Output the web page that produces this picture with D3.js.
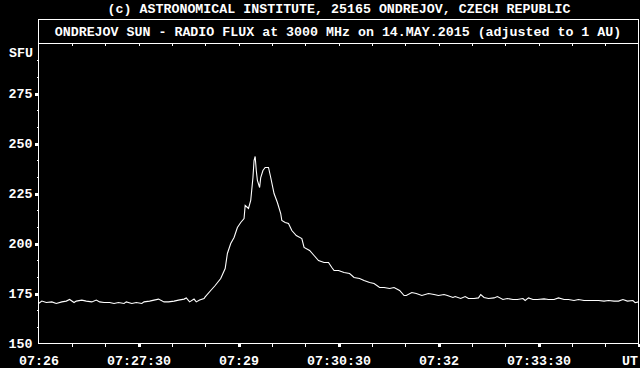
<!DOCTYPE html>
<html>
<head>
<meta charset="utf-8">
<script src="https://cdn.jsdelivr.net/npm/d3@7"></script>
<style>
  body { margin: 0; background: #000; }
  svg { display: block; }
</style>
</head>
<body>
<div id="chart"></div>
<script>
// seconds after 07:26:00 UT
var secs = [0, 3, 7, 12, 16, 21, 25, 28, 32, 34, 39, 43, 48, 52, 55, 59, 64, 68, 72, 77,
  79, 84, 88, 93, 95, 100, 104, 108, 113, 117, 122, 126, 131, 133, 136, 140, 142, 145, 149, 150,
  155, 159, 164, 168, 170, 173, 176, 179, 182, 185, 186, 189, 191, 193, 194, 195, 196, 197, 199, 200,
  202, 204, 207, 209, 212, 215, 218, 219, 222, 225, 228, 232, 237, 239, 244, 248, 252, 257, 261, 264,
  266, 270, 275, 280, 284, 289, 293, 298, 302, 307, 311, 316, 320, 325, 329, 331, 336, 340, 345, 351,
  356, 360, 365, 368, 373, 375, 380, 384, 387, 392, 396, 398, 401, 405, 410, 413, 418, 422, 427, 431,
  436, 438, 441, 445, 449, 455, 459, 464, 468, 473, 477, 482, 486, 491, 495, 500, 504, 509, 513, 518,
  522, 526, 530, 535, 537, 540];
// solar flux, SFU
var flux = [170, 171.2, 170.5, 170.8, 170, 170.8, 171.2, 172, 170.5, 171.2, 171.7, 171.2, 170.8, 171.7, 170.8, 170.5, 170.5, 170, 170.5, 170,
  170.8, 170, 170.5, 170, 170.8, 171.2, 171.7, 172.2, 170.8, 170.8, 171.2, 171.7, 172.2, 172.8, 170.8, 172.2, 170.8, 171.7, 172.5, 173.3,
  176.5, 179, 182.5, 187.5, 195, 200, 203, 208, 210.5, 212.5, 219, 217.5, 221.5, 233, 241.5, 243.5, 236.5, 231.5, 228, 233,
  236.5, 238, 238, 233, 225, 220.5, 215, 211.5, 210.5, 210, 206.5, 204, 202.5, 198, 196.5, 194, 191.5, 190.5, 190.5, 188,
  186.5, 186.5, 185.5, 185, 183, 182.5, 181.5, 180.5, 180, 178, 178, 177.5, 178, 176.5, 174, 174, 175.5, 175, 174, 175,
  174.5, 174, 174.5, 174, 173, 173.5, 172.5, 173.5, 172.5, 172.5, 172.8, 174.5, 173, 172.5, 172.8, 173.5, 172, 172.5, 172, 172,
  172.5, 171.5, 172.8, 172, 172, 172.3, 172, 172, 172.8, 172, 172, 171.5, 172, 171.5, 171.5, 171.5, 171.5, 171.2, 171.5, 171.2,
  171.2, 172, 171.2, 171.5, 170.4, 170.8];

var yMajor = [150, 175, 200, 225, 250, 275];
var xLabels = ['07:26', '07:27:30', '07:29', '07:30:30', '07:32', '07:33:30'];
var xLabelSecs = [0, 90, 180, 270, 360, 450];
var title1 = '(c) ASTRONOMICAL INSTITUTE, 25165 ONDREJOV, CZECH REPUBLIC';
var title2 = 'ONDREJOV SUN - RADIO FLUX at 3000 MHz on 14.MAY.2015 (adjusted to 1 AU)';

var width = 640, height = 368;
var fontFam = '"Liberation Mono", "DejaVu Sans Mono", monospace';
var t0 = new Date(Date.UTC(2015, 4, 14, 7, 26, 0));
var toDate = function(s) { return new Date(t0.getTime() + s * 1000); };

var svg = d3.select('#chart').append('svg')
    .attr('width', width)
    .attr('height', height)
    .style('background', '#000');

// d3 axes put their own font on the group, strip it so the mono font applies
function monoText(g) {
    g.attr('font-family', fontFam).attr('font-size', '13.3px').attr('font-weight', 'bold');
    g.select('.domain').remove();
    g.selectAll('text').attr('fill', '#fff');
}
function txt(xp, yp, anchor, s) {
    return svg.append('text')
        .attr('x', xp).attr('y', yp)
        .attr('text-anchor', anchor)
        .attr('fill', '#fff')
        .attr('font-family', fontFam)
        .attr('font-size', '13.3px')
        .attr('font-weight', 'bold')
        .text(s);
}

var x = d3.scaleUtc()
    .domain([toDate(0), toDate(540)])
    .range([38.5, 638.5]);
var y = d3.scaleLinear()
    .domain([150, 300])
    .range([343.5, 43.5]);

// title lines + box
txt(339, 12.5, 'middle', title1);
svg.append('rect')
    .attr('x', 38.5).attr('y', 19.5)
    .attr('width', 600).attr('height', 24)
    .attr('fill', 'none').attr('stroke', '#fff')
    .attr('shape-rendering', 'crispEdges');
txt(338, 36, 'middle', title2);

// plot frame
svg.append('rect')
    .attr('x', 38.5).attr('y', 43.5)
    .attr('width', 600).attr('height', 300)
    .attr('fill', 'none').attr('stroke', '#fff')
    .attr('shape-rendering', 'crispEdges');

// minor ticks every 30 s, bottom and top
var minorSecs = d3.range(30, 540, 30).map(toDate);
svg.append('g')
    .attr('transform', 'translate(0,343.5)')
    .call(d3.axisBottom(x).tickValues(minorSecs).tickSize(3).tickFormat(''))
    .call(monoText);
svg.append('g')
    .attr('transform', 'translate(0,43.5)')
    .call(d3.axisBottom(x).tickValues(minorSecs).tickSize(2).tickFormat(''))
    .call(monoText);
// major bottom ticks (small squares)
svg.append('g')
    .attr('transform', 'translate(0,344)')
    .call(d3.axisBottom(x).tickValues(d3.range(90, 541, 90).map(toDate)).tickSize(3).tickFormat(''))
    .call(monoText)
    .selectAll('line').attr('stroke-width', 3);

// bottom labels
svg.append('g')
    .attr('transform', 'translate(0,343.5)')
    .call(d3.axisBottom(x).tickValues(xLabelSecs.map(toDate)).tickSize(0).tickPadding(12)
        .tickFormat((d, i) => xLabels[i]))
    .call(monoText);
txt(638, 365, 'end', 'UT');

// y minor ticks
var yMinor = d3.range(150, 300.1, 25 / 3).filter(v => yMajor.indexOf(v) < 0 && Math.abs(v - 300) > 0.1);
svg.append('g')
    .attr('transform', 'translate(38.5,0)')
    .call(d3.axisLeft(y).tickValues(yMinor).tickSize(2).tickFormat(''))
    .call(monoText);
svg.append('g')
    .attr('transform', 'translate(38,0)')
    .call(d3.axisLeft(y).tickValues(yMajor.slice(1)).tickSize(3).tickFormat(''))
    .call(monoText)
    .selectAll('line').attr('stroke-width', 3);
svg.append('g')
    .attr('transform', 'translate(38.5,0)')
    .call(d3.axisLeft(y).tickValues(yMajor).tickSize(0).tickPadding(6))
    .call(monoText);
txt(33, 57, 'end', 'SFU');

svg.selectAll('.tick line').attr('stroke', '#fff').attr('shape-rendering', 'crispEdges');

// flux curve
var line = d3.line()
    .x((d, i) => x(toDate(secs[i])))
    .y(d => y(d));
svg.append('path')
    .datum(flux)
    .attr('fill', 'none')
    .attr('stroke', '#fff')
    .attr('stroke-width', 1.1)
    .attr('d', line);
</script>
</body>
</html>
